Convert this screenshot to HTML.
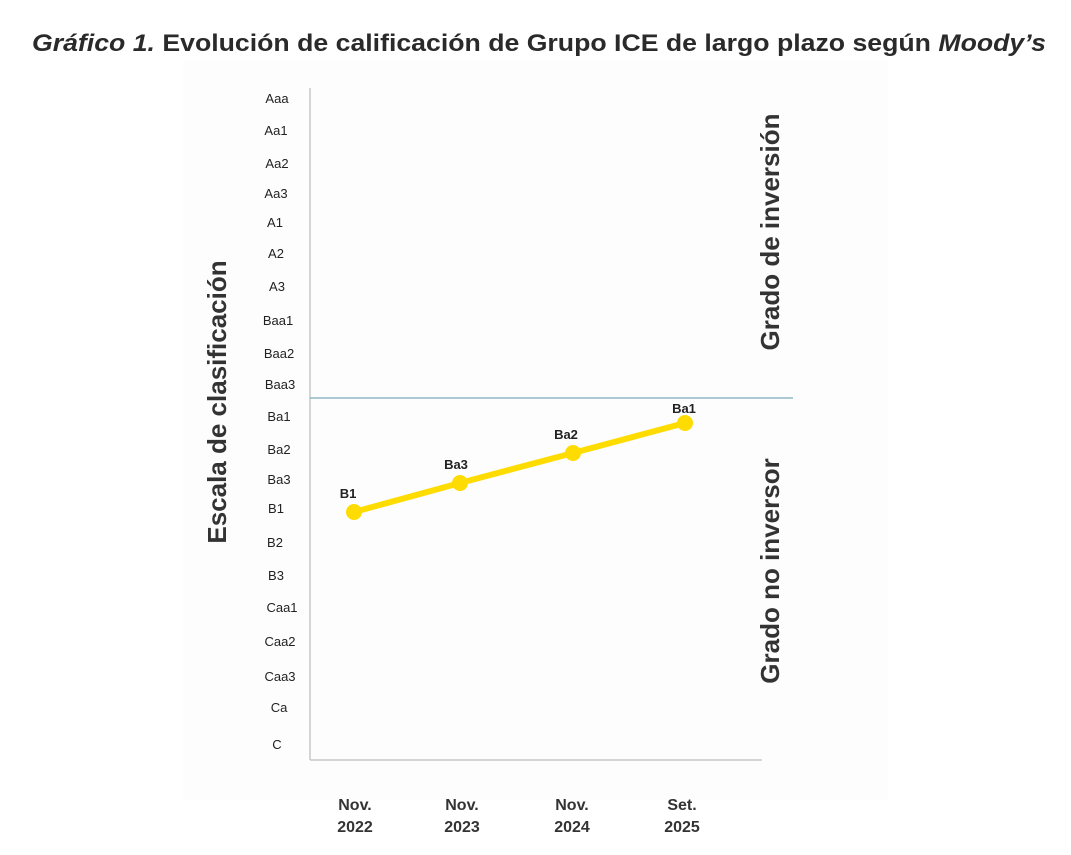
<!DOCTYPE html>
<html><head><meta charset="utf-8"><style>
html,body{margin:0;padding:0;background:#fff;}
svg{display:block;font-family:"Liberation Sans",Arial,sans-serif;}
</style></head><body>
<svg width="1071" height="855" viewBox="0 0 1071 855" xmlns="http://www.w3.org/2000/svg">
<rect width="1071" height="855" fill="#fff"/>
<rect x="183" y="60" width="705" height="740" fill="#fdfdfd"/>
<text x="32" y="51" textLength="1014" lengthAdjust="spacingAndGlyphs" font-size="24" font-weight="bold" fill="#2a2a2a"><tspan font-style="italic">Gráfico 1.</tspan> Evolución de calificación de Grupo ICE de largo plazo según <tspan font-style="italic">Moody’s</tspan></text>
<line x1="310" y1="88" x2="310" y2="760" stroke="#c8c8c8" stroke-width="1.5"/>
<line x1="310" y1="760" x2="762" y2="760" stroke="#c8c8c8" stroke-width="1.5"/>
<line x1="310" y1="398" x2="793" y2="398" stroke="#7fa8bf" stroke-width="1.2"/>
<g font-size="13" fill="#222" text-anchor="middle">
<text x="277" y="103">Aaa</text><text x="276" y="135">Aa1</text><text x="277" y="168">Aa2</text><text x="276" y="198">Aa3</text><text x="275" y="227">A1</text><text x="276" y="258">A2</text><text x="277" y="291">A3</text><text x="278" y="325">Baa1</text><text x="279" y="358">Baa2</text><text x="280" y="389">Baa3</text><text x="279" y="421">Ba1</text><text x="279" y="454">Ba2</text><text x="279" y="484">Ba3</text><text x="276" y="513">B1</text><text x="275" y="547">B2</text><text x="276" y="580">B3</text><text x="282" y="612">Caa1</text><text x="280" y="646">Caa2</text><text x="280" y="681">Caa3</text><text x="279" y="712">Ca</text><text x="277" y="749">C</text>
</g>
<polyline points="354,512 460,483 573,453 685,423" fill="none" stroke="#ffdc00" stroke-width="6"/>
<g fill="#ffdc00"><circle cx="354" cy="512" r="8"/><circle cx="460" cy="483" r="8"/><circle cx="573" cy="453" r="8"/><circle cx="685" cy="423" r="8"/></g>
<g font-size="13" font-weight="bold" fill="#222" text-anchor="middle">
<text x="348" y="498">B1</text><text x="456" y="469">Ba3</text><text x="566" y="439">Ba2</text><text x="684" y="413">Ba1</text>
</g>
<g font-size="16" font-weight="bold" fill="#333" text-anchor="middle">
<text x="355" y="810">Nov.</text><text x="355" y="832">2022</text>
<text x="462" y="810">Nov.</text><text x="462" y="832">2023</text>
<text x="572" y="810">Nov.</text><text x="572" y="832">2024</text>
<text x="682" y="810">Set.</text><text x="682" y="832">2025</text>
</g>
<text transform="translate(226,402) rotate(-90)" text-anchor="middle" font-size="26" font-weight="bold" fill="#333">Escala de clasificación</text>
<text transform="translate(779,232) rotate(-90)" text-anchor="middle" font-size="26" font-weight="bold" fill="#333">Grado de inversión</text>
<text transform="translate(779,571) rotate(-90)" text-anchor="middle" font-size="26" font-weight="bold" fill="#333">Grado no inversor</text>
</svg>
</body></html>
